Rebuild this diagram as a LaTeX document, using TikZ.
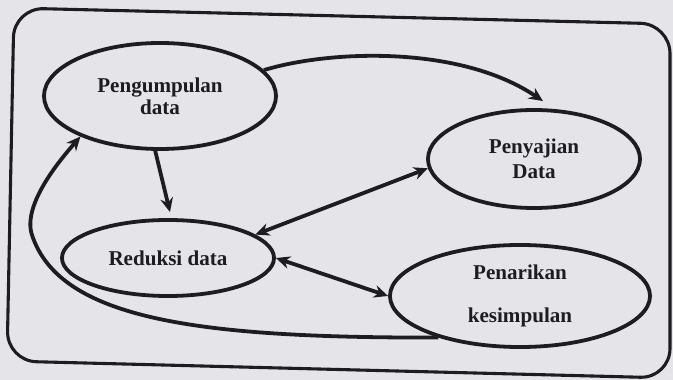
\documentclass[tikz,border=0pt]{standalone}
\usepackage{fontspec}
\setmainfont{Liberation Serif}
\usepackage{xcolor}
\usepackage{tikz}
\usetikzlibrary{arrows.meta,shapes.geometric}
\definecolor{paper}{RGB}{229,229,233}
\definecolor{ink}{RGB}{30,28,30}

\begin{document}
\begin{tikzpicture}[
  x=0.025cm,y=-0.025cm,
  >={Stealth[length=10pt,width=9pt]},
  proc/.style={draw=ink,ellipse,line width=2.7pt,inner sep=0pt,align=center,text=ink,font=\fontsize{15}{15.6}\selectfont\bfseries},
  arr/.style={draw=ink,line width=2.7pt,->},
  outerbox/.style={draw=ink,line width=2.2pt,rounded corners=21pt}
]
\fill[paper] (0,0) rectangle (673,380);
\useasboundingbox (0,0) rectangle (673,380);
\draw[outerbox] (14,8) -- (670,24) -- (670,378) -- (7,361) -- cycle;

\node[proc,minimum width=5.8cm,minimum height=2.65cm] (pd) at (160,96) {Pengumpulan\\data};
\node[proc,minimum width=5.3cm,minimum height=2.45cm] (ps) at (534,159) {Penyajian\\[2pt]Data};
\node[proc,minimum width=5.3cm,minimum height=1.9cm] (rd) at (168,258) {Reduksi data};
\node[proc,minimum width=6.5cm,minimum height=2.55cm] (pk) at (520,296) {Penarikan\\[15pt]kesimpulan};

\draw[arr] (pd.14) .. controls (330,50) and (460,45) .. ([shift={(9,-7)}]ps.north);
\draw[arr] (pd.265) -- ([shift={(2,-6)}]rd.north);
\draw[arr,<->] (rd.15) -- (ps.185);
\draw[arr,<->] (rd.east) -- (pk.west);
\coordinate (bend) at (32,235);
\draw[arr] (pk.207) .. controls (200,338) and (60,320) .. (bend) .. controls (22,205) and (60,160) .. (pd.207);
\end{tikzpicture}
\end{document}
